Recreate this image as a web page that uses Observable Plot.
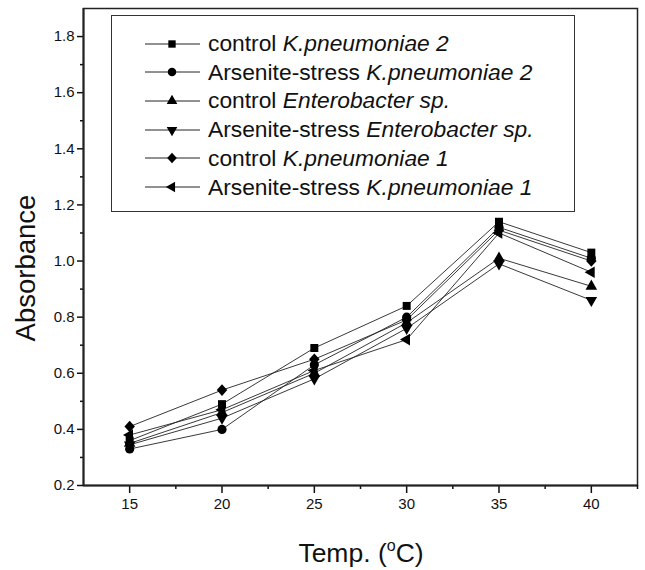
<!DOCTYPE html>
<html>
<head>
<meta charset="utf-8">
<script src="https://cdn.jsdelivr.net/npm/d3@7"></script>
<script src="https://cdn.jsdelivr.net/npm/@observablehq/plot@0.6"></script>
<style>
  html, body { margin: 0; padding: 0; background: #fff; }
  #wrap { position: relative; width: 645px; height: 570px; font-family: "Liberation Sans", Arial, sans-serif; }
  #legend { position: absolute; left: 111px; top: 15px; width: 464px; height: 197px; border: 1px solid #333; box-sizing: border-box; background: #fff; }
  .row { position: absolute; left: 0; height: 28px; display: flex; align-items: center; font-size: 22.8px; color: #111; white-space: nowrap; }
  .row svg { margin-left: 33px; margin-right: 8px; }
  #ytitle { position: absolute; left: 26px; top: 268px; transform: translate(-50%, -50%) rotate(-90deg); font-size: 27.5px; color: #111; white-space: nowrap; }
  #xtitle { position: absolute; left: 361px; top: 553px; transform: translate(-50%, -50%); font-size: 26.5px; color: #111; white-space: nowrap; }
  #xtitle sup { font-size: 16px; vertical-align: 11px; }
</style>
</head>
<body>
<div id="wrap"></div>
<script>
// ---- data ----
const temps = [15, 20, 25, 30, 35, 40];
const seriesNames = [
  ["control ", "K.pneumoniae 2"],
  ["Arsenite-stress ", "K.pneumoniae 2"],
  ["control ", "Enterobacter sp."],
  ["Arsenite-stress ", "Enterobacter sp."],
  ["control ", "K.pneumoniae 1"],
  ["Arsenite-stress ", "K.pneumoniae 1"]
];
const controlKp2   = [0.36, 0.49, 0.69, 0.84, 1.14, 1.03];
const arseniteKp2  = [0.33, 0.40, 0.63, 0.80, 1.12, 1.01];
const controlEnt   = [0.35, 0.46, 0.60, 0.78, 1.01, 0.91];
const arseniteEnt  = [0.345, 0.44, 0.58, 0.76, 0.99, 0.86];
const controlKp1   = [0.41, 0.54, 0.65, 0.79, 1.11, 1.00];
const arseniteKp1  = [0.38, 0.47, 0.61, 0.72, 1.10, 0.96];
const allSeries = [controlKp2, arseniteKp2, controlEnt, arseniteEnt, controlKp1, arseniteKp1];
const yTicks = [0.2, 0.4, 0.6, 0.8, 1.0, 1.2, 1.4, 1.6, 1.8];
const yMinor = [0.3, 0.5, 0.7, 0.9, 1.1, 1.3, 1.5, 1.7];
const xTicks = [15, 20, 25, 30, 35, 40];
const xMinor = [17.5, 22.5, 27.5, 32.5, 37.5, 42.5];

// ---- custom symbols (size = area) ----
function tri(angle) {
  return { draw(ctx, size) {
    const s = Math.sqrt(size / 0.433), h = s * 0.866;
    const pts = [[0, -h * 2 / 3], [s / 2, h / 3], [-s / 2, h / 3]];
    const c = Math.cos(angle), sn = Math.sin(angle);
    pts.forEach(([x, y], k) => {
      const X = x * c - y * sn, Y = x * sn + y * c;
      if (k === 0) ctx.moveTo(X, Y); else ctx.lineTo(X, Y);
    });
    ctx.closePath();
  } };
}
const triUp = tri(0), triDown = tri(Math.PI), triLeft = tri(-Math.PI / 2);
const rhombus = { draw(ctx, size) {
  const d = Math.sqrt(2 * size) / 2;
  ctx.moveTo(0, -d * 1.05); ctx.lineTo(d * 0.95, 0); ctx.lineTo(0, d * 1.05); ctx.lineTo(-d * 0.95, 0); ctx.closePath(); } };
const symbols = [d3.symbolSquare, d3.symbolCircle, triUp, triDown, rhombus, triLeft];
const symbolR = [4.5, 4.6, 4.3, 4.3, 4.4, 4.3];

const rows = [];
allSeries.forEach((vals, i) => vals.forEach((v, j) => rows.push({ s: i, t: temps[j], v })));

const marks = [];
allSeries.forEach((vals, i) => {
  const d = rows.filter(r => r.s === i);
  marks.push(Plot.line(d, { x: "t", y: "v", stroke: "#222", strokeWidth: 0.9 }));
});
allSeries.forEach((vals, i) => {
  const d = rows.filter(r => r.s === i);
  marks.push(Plot.dot(d, { x: "t", y: "v", symbol: symbols[i], r: symbolR[i], fill: "#000", stroke: "none" }));
});

const chart = Plot.plot({
  width: 645, height: 570,
  marginLeft: 83, marginRight: 8, marginTop: 8, marginBottom: 85,
  style: { fontFamily: "Liberation Sans, Arial, sans-serif", color: "#111", background: "#fff" },
  x: { domain: [12.5, 42.5] },
  y: { domain: [0.2, 1.9] },
  marks: [
    Plot.frame({ stroke: "#222", strokeWidth: 1.5 }),
    Plot.axisY(yTicks, { tickSize: 6, tickPadding: 3, tickFormat: d3.format(".1f"), fontSize: 15, strokeWidth: 1.5, label: null }),
    Plot.axisY(yMinor, { tickSize: 3, tickFormat: () => "", strokeWidth: 1.5, label: null }),
    Plot.axisX(xTicks, { tickSize: 8, tickPadding: 5, fontSize: 15, strokeWidth: 1.5, label: null }),
    Plot.axisX(xMinor, { tickSize: 4, tickFormat: () => "", strokeWidth: 1.5, label: null }),
    Plot.ruleX([12.5], { stroke: "#222", strokeWidth: 2 }),
    Plot.ruleY([0.2], { stroke: "#222", strokeWidth: 2 }),
    ...marks
  ]
});

const wrap = document.getElementById("wrap");
wrap.appendChild(chart);

// legend
const legend = document.createElement("div");
legend.id = "legend";
seriesNames.forEach((nm, i) => {
  const row = document.createElement("div");
  row.className = "row";
  row.style.top = (13.5 + i * 28.7) + "px";
  const svg = d3.create("svg").attr("width", 55).attr("height", 20);
  svg.append("line").attr("x1", 0).attr("x2", 55).attr("y1", 10).attr("y2", 10).attr("stroke", "#222").attr("stroke-width", 1);
  const sz = Math.PI * symbolR[i] * symbolR[i] * 0.85;
  svg.append("path").attr("transform", "translate(27,10)").attr("d", d3.symbol(symbols[i], sz)()).attr("fill", "#000");
  row.appendChild(svg.node());
  const span = document.createElement("span");
  span.innerHTML = nm[0] + "<i>" + nm[1] + "</i>";
  row.appendChild(span);
  legend.appendChild(row);
});
wrap.appendChild(legend);

const yt = document.createElement("div");
yt.id = "ytitle"; yt.textContent = "Absorbance";
wrap.appendChild(yt);
const xt = document.createElement("div");
xt.id = "xtitle"; xt.innerHTML = "Temp. (<sup>o</sup>C)";
wrap.appendChild(xt);
</script>
</body>
</html>
